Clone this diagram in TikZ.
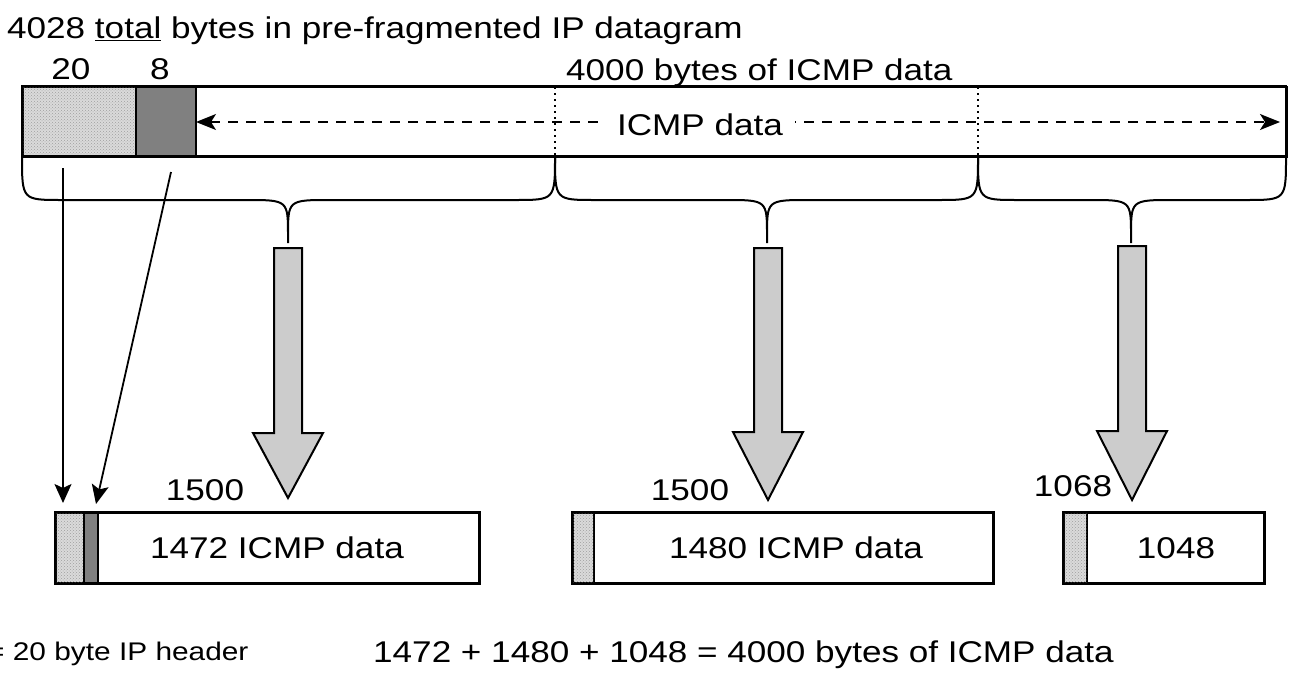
\documentclass[tikz,border=0pt]{standalone}
\usepackage{fontspec}
\setmainfont{Liberation Sans}[FakeStretch=1.17]
\usetikzlibrary{patterns,arrows.meta}
\definecolor{hdrdark}{HTML}{808080}
\definecolor{arrowfill}{HTML}{CCCCCC}
\definecolor{stipple}{HTML}{DADADA}

\tikzset{
  txt/.style={font=\fontsize{30}{36}\selectfont, inner sep=0pt},
  smalltxt/.style={font=\fontsize{25.5}{30}\selectfont, inner sep=0pt},
  frame/.style={draw, line width=2.2pt, inner sep=0pt, anchor=north west},
  iphdr/.style={draw, line width=1.5pt, inner sep=0pt, anchor=north west,
    fill=stipple, postaction={pattern=crosshatch dots, pattern color=gray!75}},
  icmphdr/.style={draw, line width=1.5pt, inner sep=0pt, anchor=north west, fill=hdrdark},
  bracestyle/.style={line width=2pt},
  bigarrow/.style={draw, line width=2pt, fill=arrowfill, line join=miter},
  thinarrow/.style={line width=1.8pt, -{Stealth[length=19pt,width=17pt,inset=4pt]}},
  spanarrow/.style={line width=1.6pt, dash pattern=on 10pt off 8pt,
    {Stealth[length=20pt,width=16pt,inset=5pt]}-{Stealth[length=20pt,width=16pt,inset=5pt]}},
  divider/.style={line width=1.8pt, dash pattern=on 2pt off 4pt},
}

% curly brace hanging below the datagram, from x=#1 to x=#3 with its tip at x=#2
\newcommand\fragbrace[3]{%
  \draw[bracestyle] (#1,156) .. controls (#1,200) .. (#1+40,200) -- (#2-42,200)
    .. controls (#2,200) .. (#2,236) -- (#2,243)
    (#2,236) .. controls (#2,200) .. (#2+42,200) -- (#3-40,200)
    .. controls (#3,200) .. (#3,156);}

% broad downward arrow: centre x, top, start of head, tip
\newcommand\fatarrow[4]{%
  \draw[bigarrow] (#1-14,#2) -- (#1+14,#2) -- (#1+14,#3) -- (#1+35,#3)
    -- (#1,#4) -- (#1-35,#3) -- (#1-14,#3) -- cycle;}

\begin{document}
\begin{tikzpicture}[x=1pt,y=-1pt]
\useasboundingbox (0,0) rectangle (1289,685);

% headline and byte counts
\node[txt, anchor=base west] (title) at (7,39) {4028 \underline{total} bytes in pre-fragmented IP datagram};
\node[txt, anchor=base] (n20) at (71,79) {20};
\node[txt, anchor=base] (n8) at (160,79) {8};
\node[txt, anchor=base west] (n4000) at (566,80) {4000 bytes of ICMP data};

% the original datagram
\node[frame, fill=white, minimum width=1264, minimum height=70] (dgram) at (22,86) {};
\node[iphdr, minimum width=113, minimum height=70] (dgip) at (22,86) {};
\node[icmphdr, minimum width=60, minimum height=70] (dgicmp) at (135,86) {};
\draw[line width=2.2pt] (22,86) rectangle (1286,156);

\draw[divider] (555,87) -- (555,156);
\draw[divider] (978,87) -- (978,156);

\coordinate (spanL) at (196,122);
\coordinate (spanR) at (1280,122);
\draw[spanarrow] (spanL) -- (spanR);
\node[txt, fill=white, inner xsep=12pt, inner ysep=4pt, anchor=base] (icmplbl) at (700,135) {ICMP data};

% braces grouping the three fragments
\fragbrace{22}{288}{555}
\fragbrace{555}{767}{978}
\fragbrace{978}{1131}{1286}

% broad arrows down to the fragments
\fatarrow{288}{248}{433}{498}
\fatarrow{768}{248}{432}{500}
\fatarrow{1132}{246}{431}{500}

% fragment sizes
\node[txt, anchor=base] (s1) at (205,500) {1500};
\node[txt, anchor=base] (s2) at (690,500) {1500};
\node[txt, anchor=base] (s3) at (1073,496) {1068};

% fragment 1
\node[frame, fill=white, minimum width=423, minimum height=70] (frag1) at (55,512) {};
\node[iphdr, minimum width=28, minimum height=70] (frag1ip) at (55,512) {};
\node[icmphdr, minimum width=14, minimum height=70] (frag1icmp) at (83,512) {};
\draw[line width=2.2pt] (frag1.south west) rectangle (frag1.north east);
\node[txt, anchor=base] (frag1txt) at (277,558) {1472 ICMP data};

% fragment 2
\node[frame, fill=white, minimum width=420, minimum height=70] (frag2) at (572,512) {};
\node[iphdr, minimum width=21, minimum height=70] (frag2ip) at (572,512) {};
\draw[line width=2.2pt] (frag2.south west) rectangle (frag2.north east);
\node[txt, anchor=base] (frag2txt) at (796,558) {1480 ICMP data};

% fragment 3
\node[frame, fill=white, minimum width=200, minimum height=70] (frag3) at (1063,512) {};
\node[iphdr, minimum width=23, minimum height=70] (frag3ip) at (1063,512) {};
\draw[line width=2.2pt] (frag3.south west) rectangle (frag3.north east);
\node[txt, anchor=base] (frag3txt) at (1176,558) {1048};

% headers carried into the first fragment
\coordinate (ipsrc) at (63,168);
\coordinate (ipdst) at (63,503);
\coordinate (icmpsrc) at (171,172);
\coordinate (icmpdst) at (96,504);
\draw[thinarrow] (ipsrc) -- (ipdst);
\draw[thinarrow] (icmpsrc) -- (icmpdst);

% footnotes
\node[smalltxt, anchor=base west] (legend) at (-13,660) {= 20 byte IP header};
\node[txt, anchor=base west] (sum) at (373,662) {1472 + 1480 + 1048 = 4000 bytes of ICMP data};
\end{tikzpicture}
\end{document}
